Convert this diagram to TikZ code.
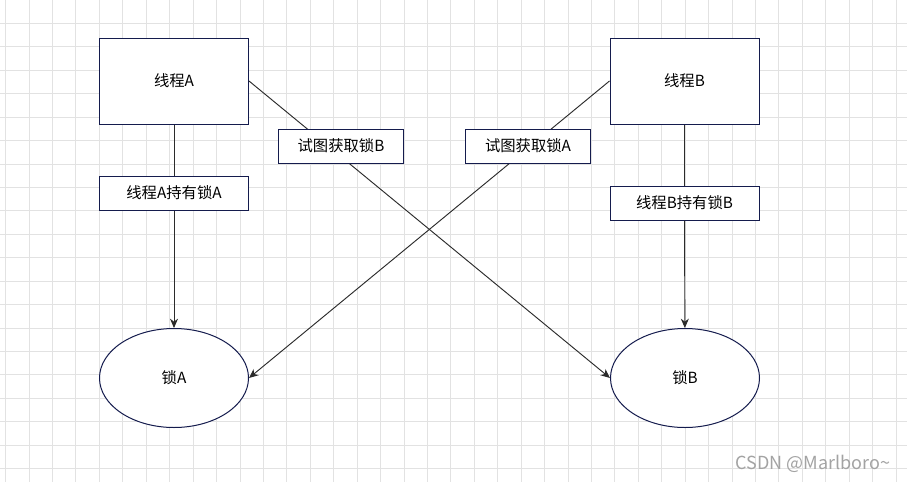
\documentclass[tikz,border=0pt]{standalone}
\usepackage{fontspec}
\setmainfont{Noto Sans CJK SC}
\usepackage{xcolor}
\usepackage{tikz}
\usetikzlibrary{arrows.meta,shapes.geometric}
\definecolor{bg}{HTML}{FFFFFF}
\definecolor{gridc}{HTML}{E2E2E2}
\definecolor{navy}{HTML}{141B4D}
\definecolor{wire}{HTML}{2B2B2B}
\definecolor{mark}{HTML}{A3A3A3}
\tikzset{
  gridline/.style={draw=gridc, line width=0.75pt},
  thread/.style={draw=navy, fill=white, line width=0.75pt, minimum width=111.75pt, minimum height=64.5pt, inner sep=0pt},
  holdlbl/.style={draw=navy, fill=white, line width=0.75pt, minimum width=111.75pt, minimum height=25.5pt, inner sep=0pt},
  trylbl/.style={draw=navy, fill=white, line width=0.75pt, minimum width=93.75pt, minimum height=25.5pt, inner sep=0pt},
  lock/.style={ellipse, draw=navy, fill=white, line width=0.75pt, minimum width=111.75pt, minimum height=74.25pt, inner sep=0pt},
  wireline/.style={draw=wire, line width=0.7pt},
  arr/.style={wireline, -{Stealth[length=7pt,width=6pt]}},
}

\begin{document}
\begin{tikzpicture}[x=0.75pt, y=-0.75pt, font=\fontsize{11.5}{14}\selectfont]
  \useasboundingbox[fill=bg] (0,0) rectangle (907,482);

  % background grid
  \foreach \i in {0,...,38} \draw[gridline] ({5.7+23.43*\i},0) -- ({5.7+23.43*\i},482);
  \foreach \j in {1,...,20} \draw[gridline] (0,{23.43*\j}) -- (907,{23.43*\j});

  % threads and locks
  \node[thread] (tA) at (174,81) {线程A};
  \node[thread] (tB) at (684.5,81) {线程B};
  \node[lock] (lockA) at (174,378) {锁A};
  \node[lock] (lockB) at (685,378) {锁B};

  \node[holdlbl] (holdA) at (174,193) {线程A持有锁A};
  \node[holdlbl] (holdB) at (684.5,203) {线程B持有锁B};

  % held locks
  \draw[wireline] (tA) -- (holdA);
  \draw[arr] (holdA) -- (lockA);
  \draw[wireline] (tB) -- (holdB);
  \draw[arr] (holdB) -- (lockB);

  % wanted locks
  \draw[arr] (tA.east) -- (lockB.west);
  \draw[arr] (tB.west) -- (lockA.east);
  \node[trylbl] (tryB) at (341,146) {试图获取锁B};
  \node[trylbl] (tryA) at (528,146) {试图获取锁A};

  \node[text=mark, font=\fontsize{13.5}{16}\selectfont] (wm) at (813,464) {CSDN @Marlboro\textasciitilde};
\end{tikzpicture}
\end{document}
